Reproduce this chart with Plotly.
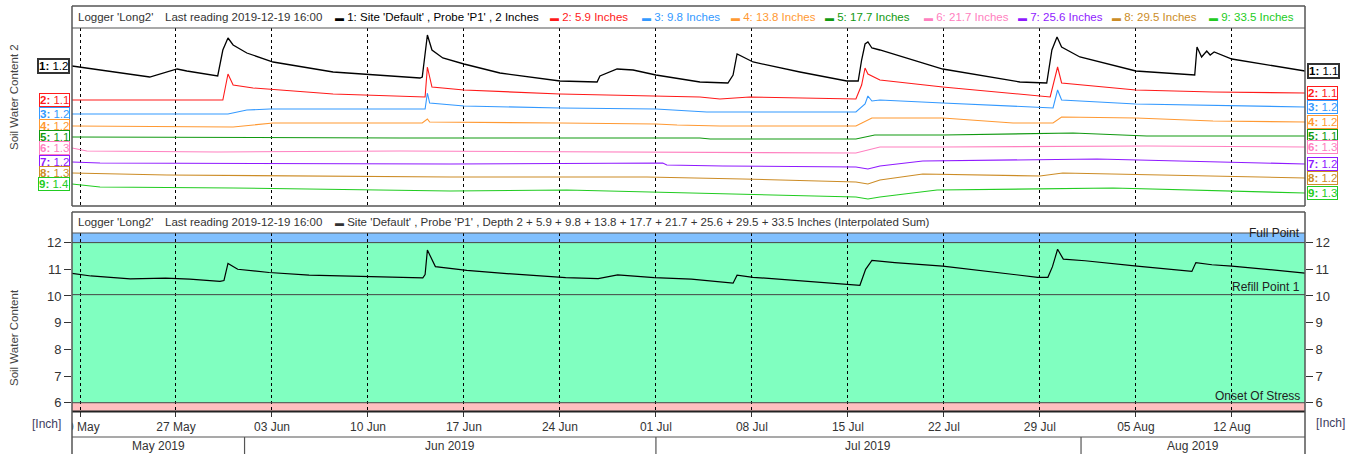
import plotly.graph_objects as go
import pandas as pd

# ---------------- data ----------------
x_start = "2019-05-19 10:00"
x_end = "2019-08-17 08:00"

week_ticks = ["2019-05-20", "2019-05-27", "2019-06-03", "2019-06-10", "2019-06-17", "2019-06-24",
              "2019-07-01", "2019-07-08", "2019-07-15", "2019-07-22", "2019-07-29", "2019-08-05", "2019-08-12"]
week_labels = ["20 May", "27 May", "03 Jun", "10 Jun", "17 Jun", "24 Jun",
               "01 Jul", "08 Jul", "15 Jul", "22 Jul", "29 Jul", "05 Aug", "12 Aug"]
month_starts = ["2019-05-01", "2019-06-01", "2019-07-01", "2019-08-01", "2019-09-01"]
month_labels = ["May 2019", "Jun 2019", "Jul 2019", "Aug 2019"]

depths = [2, 5.9, 9.8, 13.8, 17.7, 21.7, 25.6, 29.5, 33.5]
colors = ["#000000", "#ff1a1a", "#3399ff", "#ff9933", "#119911", "#ff80c0", "#8f1aff", "#cc8c26", "#22cc22"]
start_readings = [1.2, 1.1, 1.2, 1.2, 1.1, 1.3, 1.2, 1.3, 1.4]
end_readings = [1.1, 1.1, 1.2, 1.2, 1.1, 1.3, 1.2, 1.2, 1.3]

# top panel: stacked display level of each sensor
s1_dates = ["2019-05-19 10:00", "2019-05-21 11:00", "2019-05-25 02:00", "2019-05-27 02:00", "2019-05-27 19:00",
            "2019-05-30 01:00", "2019-05-30 10:00", "2019-05-30 19:00", "2019-05-31 04:00", "2019-06-01 04:00",
            "2019-06-03 02:00", "2019-06-07 11:00", "2019-06-10 22:00", "2019-06-13 19:00", "2019-06-13 23:00",
            "2019-06-14 08:00", "2019-06-14 16:00", "2019-06-15 11:00", "2019-06-17 00:00", "2019-06-19 15:00",
            "2019-06-24 00:00", "2019-06-26 17:00", "2019-06-26 22:00", "2019-06-28 04:00", "2019-06-29 08:00",
            "2019-07-01 00:00", "2019-07-04 05:00", "2019-07-06 06:00", "2019-07-06 15:00", "2019-07-06 22:00",
            "2019-07-08 02:00", "2019-07-11 12:00", "2019-07-14 22:00", "2019-07-15 18:00", "2019-07-16 00:00",
            "2019-07-16 06:00", "2019-07-16 11:00", "2019-07-16 18:00", "2019-07-17 08:00", "2019-07-21 22:00",
            "2019-07-27 13:00", "2019-07-29 12:00", "2019-07-29 21:00", "2019-07-30 06:00", "2019-07-30 14:00",
            "2019-07-31 22:00", "2019-08-05 00:00", "2019-08-08 17:00", "2019-08-09 07:00", "2019-08-09 11:00",
            "2019-08-09 19:00", "2019-08-10 04:00", "2019-08-10 10:00", "2019-08-10 17:00", "2019-08-12 00:00",
            "2019-08-17 08:00"]
s1_levels = [140, 136, 129, 137, 135, 130, 156, 168, 161, 153,
             144, 134, 131, 128, 129, 171, 156, 148, 142, 133,
             125, 124, 130, 137, 136, 131, 124, 123, 131, 152,
             144, 134, 125, 125, 146, 162, 164, 158, 156, 137,
             124, 123, 156, 169, 159, 149, 135, 131, 131, 159,
             149, 155, 151, 154, 147, 135]

s2_dates = ["2019-05-19 10:00", "2019-05-30 10:00", "2019-05-30 19:00", "2019-05-31 04:00", "2019-06-01 15:00",
            "2019-06-07 11:00", "2019-06-14 04:00", "2019-06-14 08:00", "2019-06-14 16:00", "2019-06-17 00:00",
            "2019-06-24 00:00", "2019-07-01 00:00", "2019-07-04 05:00", "2019-07-05 16:00", "2019-07-07 20:00",
            "2019-07-15 14:00", "2019-07-16 00:00", "2019-07-16 06:00", "2019-07-16 11:00", "2019-07-17 08:00",
            "2019-07-21 22:00", "2019-07-29 18:00", "2019-07-30 07:00", "2019-07-30 14:00", "2019-08-05 00:00",
            "2019-08-10 15:00", "2019-08-17 08:00"]
s2_levels = [106, 106, 132, 121, 118, 112, 109, 139, 119, 116,
             112, 110, 109, 107, 109, 107, 121, 138, 132, 126,
             119, 109, 139, 123, 116, 114, 113]

s3_dates = ["2019-05-19 10:00", "2019-05-30 19:00", "2019-06-01 04:00", "2019-06-02 20:00", "2019-06-14 04:00",
            "2019-06-14 08:00", "2019-06-14 12:00", "2019-06-17 00:00", "2019-06-24 00:00", "2019-07-01 00:00",
            "2019-07-04 17:00", "2019-07-15 14:00", "2019-07-16 06:00", "2019-07-16 11:00", "2019-07-16 18:00",
            "2019-07-17 08:00", "2019-07-21 22:00", "2019-07-29 23:00", "2019-07-30 07:00", "2019-07-30 14:00",
            "2019-08-05 00:00", "2019-08-17 08:00"]
s3_levels = [92, 92, 96, 97, 97, 113, 103, 100, 98, 97,
             94, 94, 102, 110, 105, 106, 103, 98, 116, 106,
             102, 99]

s4_dates = ["2019-05-19 10:00", "2019-05-31 04:00", "2019-06-03 02:00", "2019-06-13 23:00", "2019-06-14 08:00",
            "2019-06-14 12:00", "2019-06-24 00:00", "2019-07-01 00:00", "2019-07-02 13:00", "2019-07-05 16:00",
            "2019-07-15 14:00", "2019-07-16 18:00", "2019-07-21 22:00", "2019-07-27 01:00", "2019-07-29 23:00",
            "2019-07-30 14:00", "2019-08-05 00:00", "2019-08-10 15:00", "2019-08-17 08:00"]
s4_levels = [80, 79, 83, 83, 87, 84, 83, 82, 81, 80,
             80, 88, 88, 83, 83, 89, 88, 85, 84]

s5_dates = ["2019-05-19 10:00", "2019-06-12 08:00", "2019-07-04 05:00", "2019-07-04 23:00", "2019-07-15 14:00",
            "2019-07-16 23:00", "2019-07-21 22:00", "2019-07-31 10:00", "2019-08-05 19:00", "2019-08-17 08:00"]
s5_levels = [69, 68, 68, 67, 67, 71, 71, 73, 70, 70]

s6_dates = ["2019-05-19 10:00", "2019-05-20 12:00", "2019-05-30 01:00", "2019-06-12 08:00", "2019-07-15 14:00",
            "2019-07-17 08:00", "2019-07-21 22:00", "2019-08-05 19:00", "2019-08-17 08:00"]
s6_levels = [58, 55, 54, 55, 53, 59, 59, 60, 59]

s7_dates = ["2019-05-19 10:00", "2019-05-21 11:00", "2019-06-16 00:00", "2019-07-01 12:00", "2019-07-01 19:00",
            "2019-07-05 21:00", "2019-07-15 14:00", "2019-07-16 11:00", "2019-07-17 08:00", "2019-07-20 11:00",
            "2019-08-02 04:00", "2019-08-17 08:00"]
s7_levels = [44, 43, 42, 43, 41, 40, 39, 37, 40, 45, 47, 42]

s8_dates = ["2019-05-19 10:00", "2019-05-26 08:00", "2019-06-16 00:00", "2019-06-30 08:00", "2019-07-07 08:00",
            "2019-07-15 14:00", "2019-07-16 11:00", "2019-07-17 08:00", "2019-07-20 11:00", "2019-07-29 00:00",
            "2019-07-30 16:00", "2019-08-17 08:00"]
s8_levels = [33, 31, 29, 29, 27, 24, 22, 26, 32, 30, 33, 28]

s9_dates = ["2019-05-19 10:00", "2019-05-21 11:00", "2019-05-31 04:00", "2019-06-16 00:00", "2019-06-24 12:00",
            "2019-07-15 14:00", "2019-07-16 11:00", "2019-07-17 08:00", "2019-07-21 12:00", "2019-08-03 08:00",
            "2019-08-17 08:00"]
s9_levels = [22, 19, 18, 15, 16, 9, 7, 9, 16, 18, 13]

# bottom panel: interpolated sum (inches)
sum_dates = ["2019-05-19 10:00", "2019-05-20 19:00", "2019-05-23 16:00", "2019-05-26 06:00", "2019-05-28 00:00",
             "2019-05-30 05:00", "2019-05-30 12:00", "2019-05-30 19:00", "2019-05-31 12:00", "2019-06-02 19:00",
             "2019-06-05 17:00", "2019-06-10 00:00", "2019-06-14 00:00", "2019-06-14 04:00", "2019-06-14 08:00",
             "2019-06-14 22:00", "2019-06-17 05:00", "2019-06-20 03:00", "2019-06-24 10:00", "2019-06-26 19:00",
             "2019-06-28 05:00", "2019-06-30 21:00", "2019-07-03 14:00", "2019-07-06 15:00", "2019-07-06 22:00",
             "2019-07-08 02:00", "2019-07-12 02:00", "2019-07-15 21:00", "2019-07-16 07:00", "2019-07-16 18:00",
             "2019-07-18 10:00", "2019-07-21 22:00", "2019-07-28 20:00", "2019-07-29 14:00", "2019-07-29 22:00",
             "2019-07-30 07:00", "2019-07-30 17:00", "2019-08-01 07:00", "2019-08-05 02:00", "2019-08-09 02:00",
             "2019-08-09 09:00", "2019-08-10 13:00", "2019-08-12 00:00", "2019-08-17 08:00"]
sum_values = [10.85, 10.75, 10.64, 10.67, 10.63, 10.55, 10.58, 11.22, 11.0, 10.88,
              10.78, 10.73, 10.68, 10.8, 11.72, 11.1, 10.96, 10.84, 10.69, 10.65,
              10.79, 10.69, 10.63, 10.48, 10.78, 10.7, 10.55, 10.4, 11.0, 11.33,
              11.25, 11.12, 10.7, 10.7, 11.1, 11.75, 11.38, 11.32, 11.12, 10.92,
              11.25, 11.17, 11.12, 10.86]

full_point = 12.0
refill_point = 10.05
stress_point = 6.0
sum_range = [5.69, 12.36]
top_range = [0, 178]
sum_ticks = [6, 7, 8, 9, 10, 11, 12]

top_dates = [s1_dates, s2_dates, s3_dates, s4_dates, s5_dates, s6_dates, s7_dates, s8_dates, s9_dates]
top_levels = [s1_levels, s2_levels, s3_levels, s4_levels, s5_levels, s6_levels, s7_levels, s8_levels, s9_levels]

# ---------------- layout helpers ----------------
W, H = 1349, 454
PL, PR = 72, 1305
FONT = "Liberation Sans, Arial, sans-serif"
TXT = "#333333"
FRAME = "#555555"


def px_x(px):
    return (px - PL) / (PR - PL)


def px_y(py):
    return 1 - py / H


fig = go.Figure()

for i in range(9):
    fig.add_trace(go.Scatter(x=top_dates[i], y=top_levels[i], mode="lines", xaxis="x2", yaxis="y2",
                             line=dict(color=colors[i], width=1.3 if i == 0 else 1.1),
                             showlegend=False, hoverinfo="skip"))

fig.add_trace(go.Scatter(x=sum_dates, y=sum_values, mode="lines", xaxis="x", yaxis="y",
                         line=dict(color="#000000", width=1.2), showlegend=False, hoverinfo="skip"))
# same series bound to the right-hand axis so that its ticks are drawn (transparent)
fig.add_trace(go.Scatter(x=sum_dates, y=sum_values, mode="lines", xaxis="x", yaxis="y3",
                         line=dict(color="rgba(0,0,0,0)", width=0.5), showlegend=False, hoverinfo="skip"))

shapes = []
# bands in bottom panel
shapes.append(dict(type="rect", xref="x domain", yref="y", x0=0, x1=1, y0=full_point, y1=sum_range[1],
                   fillcolor="#80c0ff", line=dict(width=0), layer="below"))
shapes.append(dict(type="rect", xref="x domain", yref="y", x0=0, x1=1, y0=stress_point, y1=full_point,
                   fillcolor="#80ffc0", line=dict(width=0), layer="below"))
shapes.append(dict(type="rect", xref="x domain", yref="y", x0=0, x1=1, y0=sum_range[0], y1=stress_point,
                   fillcolor="#ffc0c0", line=dict(width=0), layer="below"))
for lv in (full_point, refill_point, stress_point):
    shapes.append(dict(type="line", xref="x domain", yref="y", x0=0, x1=1, y0=lv, y1=lv,
                       line=dict(color="#444444", width=1), layer="above"))

# white cover hiding the clipped part of the first tick label
shapes.append(dict(type="rect", xref="paper", yref="paper", x0=px_x(30), x1=px_x(72), y0=px_y(434), y1=px_y(413),
                   fillcolor="white", line=dict(width=0), layer="above"))


# frames
def hline(py, x0=PL, x1=PR, w=1.2, c=FRAME):
    shapes.append(dict(type="line", xref="paper", yref="paper", x0=px_x(x0), x1=px_x(x1), y0=px_y(py), y1=px_y(py),
                       line=dict(color=c, width=w), layer="above"))


def vline(px, y0, y1, w=1.2, c=FRAME):
    shapes.append(dict(type="line", xref="paper", yref="paper", x0=px_x(px), x1=px_x(px), y0=px_y(y0), y1=px_y(y1),
                       line=dict(color=c, width=w), layer="above"))


hline(6, w=1.5)
hline(28)
hline(206, w=1.5)
vline(PL, 6, 206, w=1.5)
vline(PR, 6, 206, w=1.5)
hline(212, w=1.5)
hline(233)
hline(411.5, w=2.2, c="#222222")
hline(437)
vline(PL, 212, 454, w=1.5)
vline(PR, 212, 454, w=1.5)

# month row separators and labels
xs = pd.Timestamp(x_start)
xe = pd.Timestamp(x_end)
annotations = []
for k in range(len(month_labels)):
    m0 = max(pd.Timestamp(month_starts[k]), xs)
    m1 = min(pd.Timestamp(month_starts[k + 1]), xe)
    if pd.Timestamp(month_starts[k]) > xs:
        shapes.append(dict(type="line", xref="x", yref="paper", x0=month_starts[k], x1=month_starts[k],
                           y0=0, y1=px_y(437), line=dict(color=FRAME, width=1.2), layer="above"))
    mid = m0 + (m1 - m0) / 2
    annotations.append(dict(x=mid, xref="x", y=px_y(446), yref="paper", text=month_labels[k], showarrow=False,
                            font=dict(family=FONT, size=12, color=TXT), xanchor="center", yanchor="middle"))

# headers
legend_labels = ["1: Site 'Default' , Probe 'P1' , %g Inches" % depths[0]] + \
                ["%d: %g Inches" % (i + 1, depths[i]) for i in range(1, 9)]
legend_px = [333, 548, 640, 729, 823, 922, 1016, 1110, 1207]
HF = 11.5


def header_text(px, py, text, color=TXT):
    annotations.append(dict(x=px_x(px), xref="paper", y=px_y(py), yref="paper", text=text, showarrow=False,
                            font=dict(family=FONT, size=HF, color=color), xanchor="left", yanchor="middle"))


dash = "<span style='font-size:9px'>\u25ac</span> "
for py in (17, 222):
    header_text(76, py, "Logger 'Long2'")
    header_text(163, py, "Last reading 2019-12-19 16:00")
for i in range(9):
    header_text(legend_px[i], 17, dash + legend_labels[i], colors[i])
sum_label = "Site 'Default' , Probe 'P1' , Depth " + " + ".join("%g" % d for d in depths) + \
            " Inches (Interpolated Sum)"
header_text(333, 222, dash + sum_label)

# series value boxes in top panel
for i in range(9):
    bw = 2 if i == 0 else 1
    bc = "#333333" if i == 0 else colors[i]
    annotations.append(dict(x=px_x(70), xref="paper", y=top_levels[i][0], yref="y2",
                            text="<b>%d:</b> %g" % (i + 1, start_readings[i]), showarrow=False,
                            font=dict(family=FONT, size=11.5, color=colors[i]), xanchor="right", yanchor="middle",
                            bgcolor="white", bordercolor=bc, borderwidth=bw, borderpad=0))
    annotations.append(dict(x=px_x(1307), xref="paper", y=top_levels[i][-1], yref="y2",
                            text="<b>%d:</b> %g" % (i + 1, end_readings[i]), showarrow=False,
                            font=dict(family=FONT, size=11.5, color=colors[i]), xanchor="left", yanchor="middle",
                            bgcolor="white", bordercolor=bc, borderwidth=bw, borderpad=0))

# axis titles and unit labels
annotations.append(dict(x=px_x(14), xref="paper", y=px_y(97), yref="paper", text="Soil Water Content 2",
                        textangle=-90, showarrow=False, xanchor="center", yanchor="middle",
                        font=dict(family=FONT, size=11.5, color="#444444")))
annotations.append(dict(x=px_x(14), xref="paper", y=px_y(338), yref="paper", text="Soil Water Content",
                        textangle=-90, showarrow=False, xanchor="center", yanchor="middle",
                        font=dict(family=FONT, size=11.5, color="#444444")))
annotations.append(dict(x=px_x(63), xref="paper", y=px_y(424), yref="paper", text="[Inch]", xanchor="right",
                        yanchor="middle", showarrow=False, font=dict(family=FONT, size=12, color="#404060")))
annotations.append(dict(x=px_x(1314), xref="paper", y=px_y(423), yref="paper", text="[Inch]", xanchor="left",
                        yanchor="middle", showarrow=False, font=dict(family=FONT, size=12, color="#404060")))

# threshold labels
for txt, val, off in (("Full Point", full_point, 10), ("Refill Point 1", refill_point, 8),
                      ("Onset Of Stress", stress_point, 7)):
    annotations.append(dict(x=px_x(1302), xref="paper", y=val, yref="y", yshift=off, text=txt,
                            xanchor="right", yanchor="middle", showarrow=False,
                            font=dict(family=FONT, size=12, color="#222222")))

grid = dict(showgrid=True, gridcolor="#000000", gridwidth=1, griddash="3px,3px")
ytick_common = dict(range=sum_range, tickmode="array", tickvals=sum_ticks, ticks="outside", ticklen=7,
                    tickcolor="#333333", tickfont=dict(family=FONT, size=13, color=TXT),
                    showgrid=False, zeroline=False, showline=False)

fig.update_layout(
    width=W, height=H,
    margin=dict(l=PL, r=W - PR, t=0, b=0),
    paper_bgcolor="white", plot_bgcolor="white",
    font=dict(family=FONT, color=TXT),
    showlegend=False,
    xaxis=dict(domain=[0, 1], anchor="y", type="date", range=[x_start, x_end],
               tickmode="array", tickvals=week_ticks, ticktext=week_labels,
               ticks="outside", ticklen=5, tickcolor="#333333", tickwidth=1,
               tickfont=dict(family=FONT, size=12, color=TXT), showline=False, zeroline=False, **grid),
    yaxis=dict(domain=[px_y(411), px_y(233)], anchor="x", **ytick_common),
    yaxis3=dict(overlaying="y", side="right", anchor="x", **ytick_common),
    xaxis2=dict(domain=[0, 1], anchor="y2", type="date", matches="x", range=[x_start, x_end],
                tickmode="array", tickvals=week_ticks, showticklabels=False, ticks="",
                showline=False, zeroline=False, **grid),
    yaxis2=dict(domain=[px_y(206), px_y(28)], anchor="x2", range=top_range, showticklabels=False, ticks="",
                showgrid=False, zeroline=False, showline=False),
    shapes=shapes,
    annotations=annotations,
)

fig.write_html("out.html", config={"displayModeBar": False},
               post_script="document.body.style.margin='0px';document.body.style.overflow='hidden';")
